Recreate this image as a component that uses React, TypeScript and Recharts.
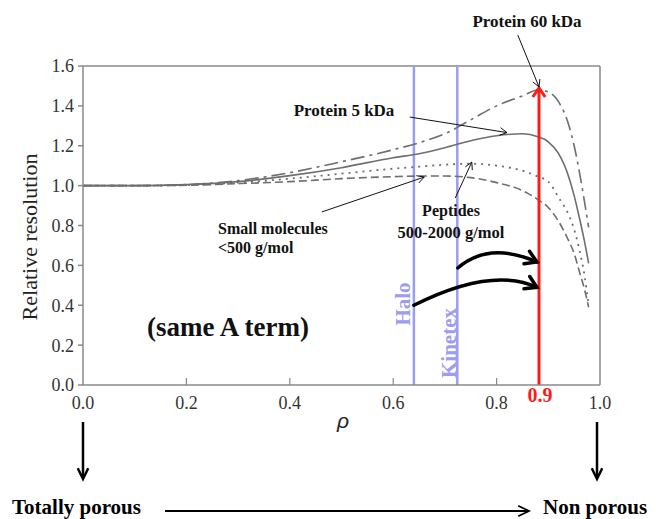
import { LineChart, Line, XAxis, YAxis, ReferenceLine } from "recharts";

// ρ values and the four relative-resolution curves
const rho = [0, 0.1, 0.2, 0.3, 0.4, 0.5, 0.6, 0.65, 0.7, 0.75, 0.8, 0.85, 0.88, 0.9, 0.92, 0.94, 0.95, 0.96, 0.97, 0.978];
const protein60 = [1.0, 1.0, 1.005, 1.025, 1.065, 1.12, 1.18, 1.215, 1.26, 1.33, 1.4, 1.45, 1.48, 1.47, 1.42, 1.3, 1.2, 1.07, 0.92, 0.79];
const protein5 = [1.0, 1.0, 1.005, 1.02, 1.05, 1.09, 1.14, 1.16, 1.19, 1.225, 1.25, 1.26, 1.245, 1.22, 1.16, 1.04, 0.95, 0.84, 0.72, 0.61];
const peptides = [1.0, 1.0, 1.003, 1.015, 1.035, 1.06, 1.085, 1.095, 1.105, 1.11, 1.1, 1.075, 1.045, 1.02, 0.94, 0.85, 0.78, 0.68, 0.55, 0.4];
const smallMol = [1.0, 1.0, 1.002, 1.01, 1.02, 1.035, 1.045, 1.048, 1.048, 1.04, 1.015, 0.975, 0.93, 0.89, 0.82, 0.72, 0.66, 0.57, 0.48, 0.39];

const xTicks = [0, 0.2, 0.4, 0.6, 0.8, 1.0];
const yTicks = [0, 0.2, 0.4, 0.6, 0.8, 1.0, 1.2, 1.4, 1.6];

// column positions and the highlighted ρ
const haloRho = 0.64;
const kinetexRho = 0.724;
const optimumRho = 0.882;
const optimumPeak = 1.49;

const data = rho.map((r, i) => ({
  rho: r,
  p60: protein60[i],
  p5: protein5[i],
  pep: peptides[i],
  small: smallMol[i],
}));

const SERIF = "'Liberation Serif', 'Times New Roman', serif";
const CURVE = "#6e6e6e";
const BLUE = "#9c9cf0";
const BORDER = "#8a8a8a";

function vHead(x: number, y: number, dx: number, dy: number, size: number, spread = 0.5) {
  const a = Math.atan2(dy, dx);
  const p1 = [x - size * Math.cos(a - spread), y - size * Math.sin(a - spread)];
  const p2 = [x - size * Math.cos(a + spread), y - size * Math.sin(a + spread)];
  return `M${p1[0]},${p1[1]} L${x},${y} L${p2[0]},${p2[1]}`;
}

// straight thin annotation arrow
function thinArrow(color = "#111", width = 1, size = 8) {
  return (props: any) => {
    const { x1, y1, x2, y2 } = props;
    return (
      <g>
        <line x1={x1} y1={y1} x2={x2} y2={y2} stroke={color} strokeWidth={width} />
        <path d={vHead(x2, y2, x2 - x1, y2 - y1, size)} fill="none" stroke={color} strokeWidth={width} />
      </g>
    );
  };
}

// thick curved arrow, control point offset from the chord midpoint
function curvedArrow(offX: number, offY: number) {
  return (props: any) => {
    const { x1, y1, x2, y2 } = props;
    const cx = (x1 + x2) / 2 + offX;
    const cy = (y1 + y2) / 2 + offY;
    return (
      <g fill="none" stroke="#000" strokeWidth={3.5} strokeLinecap="round">
        <path d={`M${x1},${y1} Q${cx},${cy} ${x2},${y2}`} />
        <path d={vHead(x2, y2, x2 - cx, y2 - cy, 13, 0.55)} strokeLinejoin="miter" />
      </g>
    );
  };
}

function redArrow(props: any) {
  const { x1, y1, x2, y2 } = props;
  const top = Math.min(y1, y2);
  const bottom = Math.max(y1, y2);
  return (
    <g stroke="#ff1a1a" strokeWidth={3} fill="none">
      <line x1={x1} y1={bottom} x2={x1} y2={top + 1} />
      <path d={vHead(x1, top, 0, -1, 11, 0.6)} />
    </g>
  );
}

function XTick({ x, y, payload }: any) {
  return (
    <g>
      {payload.value > 0 && payload.value < 1 && (
        <line x1={x} y1={y} x2={x} y2={y - 7} stroke={BORDER} strokeWidth={1.2} />
      )}
      <text x={x} y={y + 24} textAnchor="middle" fontFamily={SERIF} fontSize={18} fill="#333">
        {payload.value.toFixed(1)}
      </text>
    </g>
  );
}

function Overlay() {
  const bold = { fontFamily: SERIF, fontWeight: 700, fill: "#111" } as const;
  return (
    <svg width={656} height={519} style={{ position: "absolute", left: 0, top: 0, pointerEvents: "none" }}>
      <text x={527} y={27} textAnchor="middle" fontSize={17} {...bold}>Protein 60 kDa</text>
      <text x={344} y={116} textAnchor="middle" fontSize={17} {...bold}>Protein 5 kDa</text>
      <text x={218} y={234} fontSize={16} {...bold}>Small molecules</text>
      <text x={218} y={253} fontSize={16} {...bold}>&lt;500 g/mol</text>
      <text x={451} y={216} textAnchor="middle" fontSize={16} {...bold}>Peptides</text>
      <text x={451} y={238} textAnchor="middle" fontSize={16.5} {...bold}>500-2000 g/mol</text>
      <text x={147} y={336} fontSize={27} {...bold}>(same A term)</text>

      <text transform="translate(403,304) rotate(-90)" textAnchor="middle" dominantBaseline="central"
        fontFamily={SERIF} fontWeight={700} fontSize={21} fill={BLUE}>Halo</text>
      <text transform="translate(449,343) rotate(-90)" textAnchor="middle" dominantBaseline="central"
        fontFamily={SERIF} fontWeight={700} fontSize={21} fill={BLUE}>Kinetex</text>

      <text x={540} y={402} textAnchor="middle" fontFamily={SERIF} fontWeight={700} fontSize={20} fill="#ff1a1a">0.9</text>

      <text transform="translate(29,237) rotate(-90)" textAnchor="middle" dominantBaseline="central"
        fontFamily={SERIF} fontSize={22} fill="#222">Relative resolution</text>
      <text x={343} y={428} textAnchor="middle" fontFamily="'Liberation Sans', sans-serif" fontStyle="italic"
        fontSize={21} fill="#222">ρ</text>

      <g stroke="#000" strokeWidth={2.5} fill="none">
        <line x1={83} y1={422} x2={83} y2={478} />
        <path d={vHead(83, 479, 0, 1, 12, 0.45)} />
        <line x1={597} y1={422} x2={597} y2={478} />
        <path d={vHead(597, 479, 0, 1, 12, 0.45)} />
        <line x1={165} y1={511} x2={528} y2={511} strokeWidth={1.8} />
        <path d={vHead(529, 511, 1, 0, 12, 0.45)} strokeWidth={1.8} />
      </g>
      <text x={12} y={514} fontSize={21} {...bold} fill="#000">Totally porous</text>
      <text x={543} y={514} fontSize={21} {...bold} fill="#000">Non porous</text>
    </svg>
  );
}

export default function App() {
  return (
    <div style={{ position: "absolute", left: 0, top: 0, width: 656, height: 519, background: "#fff" }}>
      <LineChart width={656} height={519} data={data} margin={{ top: 66, right: 56, left: 23, bottom: 104 }}>
        <XAxis
          dataKey="rho"
          type="number"
          domain={[0, 1]}
          ticks={xTicks}
          interval={0}
          allowDataOverflow
          stroke={BORDER}
          strokeWidth={1.5}
          tickLine={false}
          tickSize={0}
          tickMargin={0}
          height={30}
          tick={<XTick />}
        />
        <YAxis
          type="number"
          domain={[0, 1.6]}
          ticks={yTicks}
          interval={0}
          allowDataOverflow
          width={60}
          stroke={BORDER}
          strokeWidth={1.5}
          tickSize={5}
          tickMargin={4}
          tickFormatter={(v: number) => v.toFixed(1)}
          tick={{ fontFamily: SERIF, fontSize: 18, fill: "#333" }}
        />
        {/* plot frame */}
        <ReferenceLine y={1.6} stroke={BORDER} strokeWidth={1.5} />
        <ReferenceLine x={1} stroke={BORDER} strokeWidth={1.5} />

        {/* column markers */}
        <ReferenceLine x={haloRho} stroke={BLUE} strokeWidth={2.5} />
        <ReferenceLine x={kinetexRho} stroke={BLUE} strokeWidth={2.5} />

        <Line dataKey="small" type="monotone" stroke={CURVE} strokeWidth={1.6} strokeDasharray="8 4" dot={false} isAnimationActive={false} />
        <Line dataKey="pep" type="monotone" stroke={CURVE} strokeWidth={1.8} strokeDasharray="2 5" dot={false} isAnimationActive={false} />
        <Line dataKey="p5" type="monotone" stroke={CURVE} strokeWidth={1.6} dot={false} isAnimationActive={false} />
        <Line dataKey="p60" type="monotone" stroke={CURVE} strokeWidth={1.6} strokeDasharray="14 5 3 5" dot={false} isAnimationActive={false} />

        {/* optimum ρ arrow */}
        <ReferenceLine
          segment={[{ x: optimumRho, y: 0 }, { x: optimumRho, y: optimumPeak }]}
          ifOverflow="visible"
          shape={redArrow}
        />

        {/* label pointers */}
        <ReferenceLine segment={[{ x: 0.841, y: 1.755 }, { x: 0.882, y: 1.495 }]} ifOverflow="visible" shape={thinArrow()} />
        <ReferenceLine segment={[{ x: 0.632, y: 1.344 }, { x: 0.82, y: 1.266 }]} ifOverflow="visible" shape={thinArrow()} />
        <ReferenceLine segment={[{ x: 0.462, y: 0.868 }, { x: 0.66, y: 1.043 }]} ifOverflow="visible" shape={thinArrow()} />
        <ReferenceLine segment={[{ x: 0.72, y: 0.938 }, { x: 0.752, y: 1.118 }]} ifOverflow="visible" shape={thinArrow()} />

        {/* Halo / Kinetex → 0.9 shifts */}
        <ReferenceLine segment={[{ x: 0.725, y: 0.587 }, { x: 0.878, y: 0.617 }]} ifOverflow="visible" shape={curvedArrow(-8, -24)} />
        <ReferenceLine segment={[{ x: 0.64, y: 0.4 }, { x: 0.878, y: 0.49 }]} ifOverflow="visible" shape={curvedArrow(16, -30)} />
      </LineChart>
      <Overlay />
    </div>
  );
}
